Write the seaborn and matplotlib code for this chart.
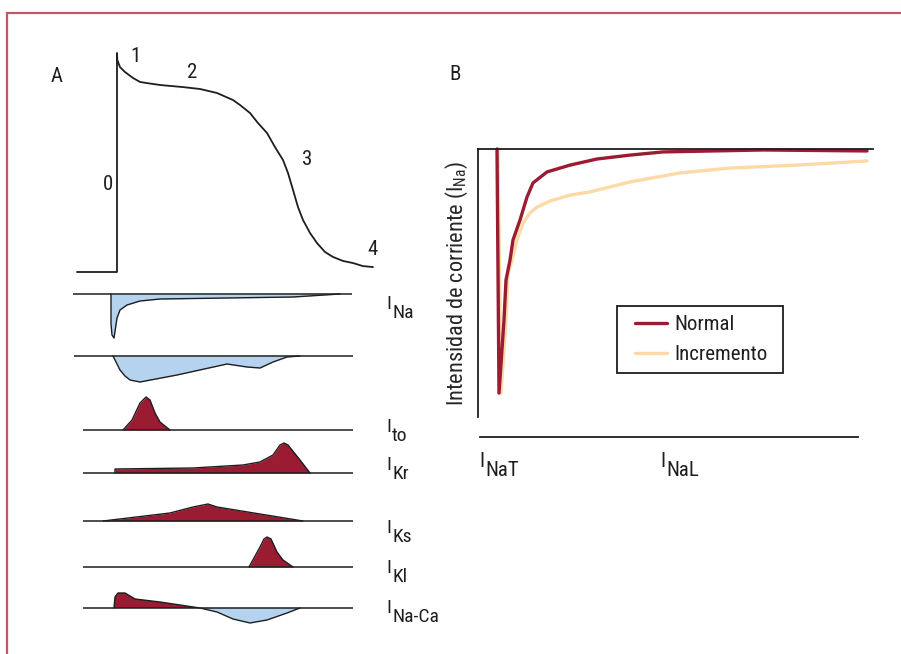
import matplotlib
matplotlib.use('Agg')
import matplotlib.pyplot as plt
import seaborn as sns
from matplotlib import font_manager
from matplotlib.legend_handler import HandlerLine2D
from matplotlib.patches import Rectangle

# A: potencial de acción (t en ms, V en mV)
ap_t = [-40, 0, 0, 0.3, 3, 8, 16, 23, 30, 43, 66, 83, 100, 116, 123, 133, 141, 150, 158, 166, 171,
        176, 181, 186, 193, 200, 208, 216, 226, 236, 246, 256]
ap_v = [-85, -85, 30, 26.3, 22.6, 20.0, 16.9, 14.8, 14.2, 13.2, 12.1, 11.1, 9.0, 5.3, 2.7, -1.5, -6.8,
        -12.0, -19.4, -26.2, -33.0, -41.9, -50.9, -57.7, -64.5, -69.8, -74.5, -77.1, -79.2, -80.3,
        -81.9, -82.4]

# corrientes (positivo = saliente, negativo = entrante)
ina_t = [-6, -6, -5, -3, -1.5, 0, 3, 10, 23, 43, 110, 176, 223]
ina_i = [0, -30, -41, -44, -34, -24, -16, -11, -7, -5, -4, -3, 0]
ica_t = [-4, 0, 3, 8, 13, 23, 60, 110, 130, 143, 156, 170, 183]
ica_i = [0, -8, -14, -20, -24, -26, -19, -8, -11, -12, -6, -1, 0]
ito_t = [6, 15, 23, 29, 33, 38, 43, 53]
ito_i = [0, 10, 27, 33, 30, 17, 8, 0]
ikr_t = [-2, -2, 76, 126, 143, 156, 163, 167, 171, 183, 193]
ikr_i = [0, 4, 5, 8, 11, 18, 28, 30, 28, 13, 0]
iks_t = [-14, 53, 76, 91, 100, 143, 186]
iks_i = [0, 8, 14, 17, 14, 7, 0]
ik1_t = [132, 143, 147, 150, 154, 160, 166, 176]
ik1_i = [0, 20, 28, 30, 28, 15, 7, 0]
inaca_t = [-3, -2, 1, 8, 13, 18, 43, 83, 100, 116, 133, 150, 170, 183]
inaca_i = [0, 11, 15, 15, 12, 9, 6, 0, -4, -11, -15, -12, -5, 0]

trace_names = ['Na', '', 'to', 'Kr', 'Ks', 'Kl', 'Na-Ca']
trace_base = [294, 356, 430, 473, 521, 567, 608]   # píxeles
line_start = [-44, -43, -34, -34, -34, -34, -34]
line_end = [235, 236, 236, 236, 236, 236, 236]
label_base = [309, None, 432, 470, 533, 573, 613]

# B: corriente de sodio
normal_t = [19, 21, 26, 28, 32, 35, 42, 49, 55, 69, 92, 119, 152, 185, 235, 285, 389]
normal_i = [0, -1.0, -0.70, -0.537, -0.455, -0.373, -0.291, -0.197, -0.139, -0.094, -0.066, -0.041,
            -0.025, -0.012, -0.008, -0.004, -0.008]
incr_t = [20, 23, 28, 30, 34, 39, 45, 52, 59, 72, 92, 112, 152, 202, 252, 319, 389]
incr_i = [0, -1.0, -0.70, -0.516, -0.455, -0.373, -0.303, -0.262, -0.238, -0.213, -0.189, -0.176,
          -0.135, -0.098, -0.078, -0.066, -0.049]

RED = '#9b1b33'
BLUE = '#b5d3ef'
PEACH = '#fdd9a6'
INK = '#1e1e1e'

avail = {f.name for f in font_manager.fontManager.ttflist}
FONT = 'Liberation Sans'
for cand in ['Liberation Sans Narrow', 'Roboto Condensed', 'DejaVu Sans Condensed', 'Open Sans Condensed', 'Roboto']:
    if cand in avail:
        FONT = cand
        break

sns.set_theme(style='white')
plt.rcParams['font.family'] = [FONT, 'DejaVu Sans']
plt.rcParams['mathtext.fontset'] = 'custom'
plt.rcParams['mathtext.rm'] = FONT
plt.rcParams['text.color'] = INK

W, H = 901, 654
fig = plt.figure(figsize=(W / 100, H / 100), dpi=100)


def fx(x):
    return x / W


def fy(y):
    return 1 - y / H


def px_ax(x0, y0, x1, y1):
    return fig.add_axes([fx(x0), fy(y1), (x1 - x0) / W, (y1 - y0) / H])


def sub_label(x, y, sub, size=14):
    fig.text(fx(x), fy(y), 'I', ha='left', va='baseline', size=size)
    fig.text(fx(x + 6), fy(y + 9), sub, ha='left', va='baseline', size=size)


# marco
fig.add_artist(Rectangle((fx(7), -0.1), 1.5, fy(13) + 0.1, transform=fig.transFigure,
                         fill=False, edgecolor='#c4566c', lw=1.6))

#%% Panel A
ax_ap = px_ax(60, 45, 380, 280)
sns.lineplot(x=ap_t, y=ap_v, ax=ax_ap, color=INK, lw=1.3, sort=False, estimator=None)
ax_ap.set_xlim(-57, 263)
ax_ap.set_ylim(-89.2, 34.2)
ax_ap.axis('off')

traces = [(ina_t, ina_i), (ica_t, ica_i), (ito_t, ito_i), (ikr_t, ikr_i),
          (iks_t, iks_i), (ik1_t, ik1_i), (inaca_t, inaca_i)]
for (t, cur), name, b, s, e, lb in zip(traces, trace_names, trace_base, line_start, line_end, label_base):
    ax = px_ax(60, b - 50, 380, b + 50)
    ax.fill_between(t, 0, cur, where=[c >= 0 for c in cur], interpolate=True, color=RED, lw=0)
    ax.fill_between(t, 0, cur, where=[c <= 0 for c in cur], interpolate=True, color=BLUE, lw=0)
    sns.lineplot(x=t, y=cur, ax=ax, color=INK, lw=1.0, sort=False, estimator=None)
    ax.hlines(0, s, e, color=INK, lw=1.1)
    ax.set_xlim(-57, 263)
    ax.set_ylim(-50, 50)
    ax.axis('off')
    if lb is not None:
        sub_label(386, lb, name)

fig.text(fx(57), fy(76), 'A', ha='center', va='center', size=15)
for txt, x, y in [('0', 108, 185), ('1', 135, 56), ('2', 192, 72), ('3', 307, 160), ('4', 373, 249)]:
    fig.text(fx(x), fy(y), txt, ha='center', va='center', size=15)

#%% Panel B
ax_b = px_ax(478, 149, 873, 417)
sns.lineplot(x=incr_t, y=incr_i, ax=ax_b, color=PEACH, lw=2.4, sort=False, estimator=None,
             label='Incremento')
sns.lineplot(x=normal_t, y=normal_i, ax=ax_b, color=RED, lw=2.4, sort=False, estimator=None,
             label='Normal')
for ln in ax_b.lines:
    ln.set_clip_on(False)
ax_b.set_xlim(0, 395)
ax_b.set_ylim(-1.098, 0)
ax_b.set_xticks([])
ax_b.set_yticks([])
for side in ['bottom', 'right']:
    ax_b.spines[side].set_visible(False)
for side in ['top', 'left']:
    ax_b.spines[side].set_color(INK)
    ax_b.spines[side].set_linewidth(1.3)
ax_b.set_ylabel(r'Intensidad de corriente (I$_{\mathrm{Na}}$)', fontsize=16, labelpad=0)
ax_b.yaxis.set_label_coords(-0.02, 0.5)

handles, labels = ax_b.get_legend_handles_labels()
leg = ax_b.legend(handles[::-1], labels[::-1], loc='upper left',
                  bbox_to_anchor=(fx(617), fy(372), (783 - 617) / W, (372 - 306) / H),
                  bbox_transform=fig.transFigure, mode='expand', frameon=True, fancybox=False,
                  edgecolor=INK, framealpha=1, fontsize=15, handlelength=1.95, handletextpad=0.34,
                  borderpad=0.45, labelspacing=0.5, borderaxespad=0,
                  handler_map={h: HandlerLine2D(xpad=0.43) for h in handles})
leg.get_frame().set_linewidth(1.3)

ax_x = px_ax(480, 420, 858, 437)
ax_x.set_xticks([])
ax_x.set_yticks([])
for side in ['top', 'left', 'right']:
    ax_x.spines[side].set_visible(False)
ax_x.spines['bottom'].set_color(INK)
ax_x.spines['bottom'].set_linewidth(1.3)
ax_x.patch.set_alpha(0)

sub_label(479, 467, 'NaT', size=15)
sub_label(660, 467, 'NaL', size=15)
fig.text(fx(455), fy(75), 'B', ha='center', va='center', size=15)

plt.savefig('out.png', dpi=100)
